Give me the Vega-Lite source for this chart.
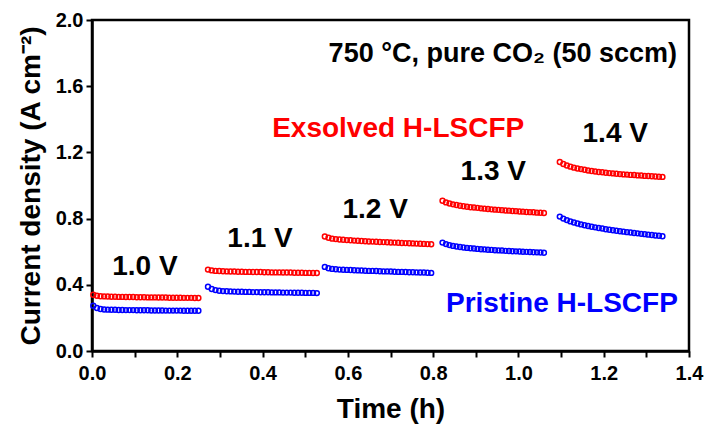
{
  "$schema": "https://vega.github.io/schema/vega-lite/v6.json",
  "width": 597,
  "height": 331,
  "autosize": "none",
  "padding": {"left": 92, "top": 20, "right": 18, "bottom": 74},
  "background": "white",
  "config": {
    "view": {"stroke": "black", "strokeWidth": 2.5},
    "font": "Liberation Sans",
    "axis": {
      "domainColor": "black", "domainWidth": 2.5,
      "tickColor": "black", "tickWidth": 2, "tickSize": 6,
      "labelFont": "Liberation Sans", "labelFontWeight": "bold", "labelFontSize": 20, "labelColor": "black",
      "titleFont": "Liberation Sans", "titleFontWeight": "bold", "titleFontSize": 28, "titleColor": "black",
      "grid": false
    }
  },
  "datasets": {
    "pts": [
      {"t":0.003,"j":0.340,"s":"Exsolved"},{"t":0.0115,"j":0.334,"s":"Exsolved"},{"t":0.020,"j":0.331,"s":"Exsolved"},{"t":0.0285,"j":0.330,"s":"Exsolved"},{"t":0.037,"j":0.329,"s":"Exsolved"},{"t":0.0455,"j":0.328,"s":"Exsolved"},{"t":0.054,"j":0.328,"s":"Exsolved"},{"t":0.0625,"j":0.327,"s":"Exsolved"},{"t":0.071,"j":0.327,"s":"Exsolved"},{"t":0.0795,"j":0.326,"s":"Exsolved"},{"t":0.088,"j":0.326,"s":"Exsolved"},{"t":0.0965,"j":0.326,"s":"Exsolved"},{"t":0.105,"j":0.325,"s":"Exsolved"},{"t":0.1135,"j":0.325,"s":"Exsolved"},{"t":0.122,"j":0.325,"s":"Exsolved"},{"t":0.1305,"j":0.324,"s":"Exsolved"},{"t":0.139,"j":0.324,"s":"Exsolved"},{"t":0.1475,"j":0.324,"s":"Exsolved"},{"t":0.156,"j":0.323,"s":"Exsolved"},{"t":0.1645,"j":0.323,"s":"Exsolved"},{"t":0.173,"j":0.323,"s":"Exsolved"},{"t":0.1815,"j":0.322,"s":"Exsolved"},{"t":0.190,"j":0.322,"s":"Exsolved"},{"t":0.1985,"j":0.322,"s":"Exsolved"},{"t":0.207,"j":0.322,"s":"Exsolved"},{"t":0.2155,"j":0.321,"s":"Exsolved"},{"t":0.224,"j":0.321,"s":"Exsolved"},{"t":0.2325,"j":0.321,"s":"Exsolved"},{"t":0.241,"j":0.320,"s":"Exsolved"},{"t":0.2495,"j":0.320,"s":"Exsolved"},
      {"t":0.003,"j":0.274,"s":"Pristine"},{"t":0.0115,"j":0.260,"s":"Pristine"},{"t":0.020,"j":0.254,"s":"Pristine"},{"t":0.0285,"j":0.251,"s":"Pristine"},{"t":0.037,"j":0.250,"s":"Pristine"},{"t":0.0455,"j":0.249,"s":"Pristine"},{"t":0.054,"j":0.249,"s":"Pristine"},{"t":0.0625,"j":0.248,"s":"Pristine"},{"t":0.071,"j":0.248,"s":"Pristine"},{"t":0.0795,"j":0.247,"s":"Pristine"},{"t":0.088,"j":0.247,"s":"Pristine"},{"t":0.0965,"j":0.247,"s":"Pristine"},{"t":0.105,"j":0.246,"s":"Pristine"},{"t":0.1135,"j":0.246,"s":"Pristine"},{"t":0.122,"j":0.246,"s":"Pristine"},{"t":0.1305,"j":0.246,"s":"Pristine"},{"t":0.139,"j":0.245,"s":"Pristine"},{"t":0.1475,"j":0.245,"s":"Pristine"},{"t":0.156,"j":0.245,"s":"Pristine"},{"t":0.1645,"j":0.245,"s":"Pristine"},{"t":0.173,"j":0.244,"s":"Pristine"},{"t":0.1815,"j":0.244,"s":"Pristine"},{"t":0.190,"j":0.244,"s":"Pristine"},{"t":0.1985,"j":0.244,"s":"Pristine"},{"t":0.207,"j":0.244,"s":"Pristine"},{"t":0.2155,"j":0.243,"s":"Pristine"},{"t":0.224,"j":0.243,"s":"Pristine"},{"t":0.2325,"j":0.243,"s":"Pristine"},{"t":0.241,"j":0.243,"s":"Pristine"},{"t":0.2495,"j":0.243,"s":"Pristine"},
      {"t":0.272,"j":0.492,"s":"Exsolved"},{"t":0.2808,"j":0.487,"s":"Exsolved"},{"t":0.2896,"j":0.484,"s":"Exsolved"},{"t":0.2984,"j":0.483,"s":"Exsolved"},{"t":0.3072,"j":0.482,"s":"Exsolved"},{"t":0.316,"j":0.481,"s":"Exsolved"},{"t":0.3248,"j":0.480,"s":"Exsolved"},{"t":0.3336,"j":0.480,"s":"Exsolved"},{"t":0.3424,"j":0.479,"s":"Exsolved"},{"t":0.3512,"j":0.479,"s":"Exsolved"},{"t":0.360,"j":0.478,"s":"Exsolved"},{"t":0.3688,"j":0.478,"s":"Exsolved"},{"t":0.3776,"j":0.477,"s":"Exsolved"},{"t":0.3864,"j":0.477,"s":"Exsolved"},{"t":0.3952,"j":0.477,"s":"Exsolved"},{"t":0.404,"j":0.476,"s":"Exsolved"},{"t":0.4128,"j":0.476,"s":"Exsolved"},{"t":0.4216,"j":0.475,"s":"Exsolved"},{"t":0.4304,"j":0.475,"s":"Exsolved"},{"t":0.4392,"j":0.475,"s":"Exsolved"},{"t":0.448,"j":0.474,"s":"Exsolved"},{"t":0.4568,"j":0.474,"s":"Exsolved"},{"t":0.4656,"j":0.474,"s":"Exsolved"},{"t":0.4744,"j":0.473,"s":"Exsolved"},{"t":0.4832,"j":0.473,"s":"Exsolved"},{"t":0.492,"j":0.473,"s":"Exsolved"},{"t":0.5008,"j":0.472,"s":"Exsolved"},{"t":0.5096,"j":0.472,"s":"Exsolved"},{"t":0.5184,"j":0.471,"s":"Exsolved"},{"t":0.5272,"j":0.471,"s":"Exsolved"},
      {"t":0.272,"j":0.388,"s":"Pristine"},{"t":0.2808,"j":0.375,"s":"Pristine"},{"t":0.2896,"j":0.368,"s":"Pristine"},{"t":0.2984,"j":0.364,"s":"Pristine"},{"t":0.3072,"j":0.362,"s":"Pristine"},{"t":0.316,"j":0.361,"s":"Pristine"},{"t":0.3248,"j":0.360,"s":"Pristine"},{"t":0.3336,"j":0.359,"s":"Pristine"},{"t":0.3424,"j":0.358,"s":"Pristine"},{"t":0.3512,"j":0.358,"s":"Pristine"},{"t":0.360,"j":0.357,"s":"Pristine"},{"t":0.3688,"j":0.357,"s":"Pristine"},{"t":0.3776,"j":0.356,"s":"Pristine"},{"t":0.3864,"j":0.356,"s":"Pristine"},{"t":0.3952,"j":0.355,"s":"Pristine"},{"t":0.404,"j":0.355,"s":"Pristine"},{"t":0.4128,"j":0.355,"s":"Pristine"},{"t":0.4216,"j":0.354,"s":"Pristine"},{"t":0.4304,"j":0.354,"s":"Pristine"},{"t":0.4392,"j":0.354,"s":"Pristine"},{"t":0.448,"j":0.353,"s":"Pristine"},{"t":0.4568,"j":0.353,"s":"Pristine"},{"t":0.4656,"j":0.353,"s":"Pristine"},{"t":0.4744,"j":0.352,"s":"Pristine"},{"t":0.4832,"j":0.352,"s":"Pristine"},{"t":0.492,"j":0.352,"s":"Pristine"},{"t":0.5008,"j":0.351,"s":"Pristine"},{"t":0.5096,"j":0.351,"s":"Pristine"},{"t":0.5184,"j":0.351,"s":"Pristine"},{"t":0.5272,"j":0.350,"s":"Pristine"},
      {"t":0.546,"j":0.692,"s":"Exsolved"},{"t":0.5546,"j":0.684,"s":"Exsolved"},{"t":0.5632,"j":0.679,"s":"Exsolved"},{"t":0.5718,"j":0.676,"s":"Exsolved"},{"t":0.5804,"j":0.674,"s":"Exsolved"},{"t":0.589,"j":0.672,"s":"Exsolved"},{"t":0.5976,"j":0.670,"s":"Exsolved"},{"t":0.6062,"j":0.669,"s":"Exsolved"},{"t":0.6148,"j":0.667,"s":"Exsolved"},{"t":0.6234,"j":0.666,"s":"Exsolved"},{"t":0.632,"j":0.665,"s":"Exsolved"},{"t":0.6406,"j":0.663,"s":"Exsolved"},{"t":0.6492,"j":0.662,"s":"Exsolved"},{"t":0.6578,"j":0.661,"s":"Exsolved"},{"t":0.6664,"j":0.660,"s":"Exsolved"},{"t":0.675,"j":0.659,"s":"Exsolved"},{"t":0.6836,"j":0.658,"s":"Exsolved"},{"t":0.6922,"j":0.657,"s":"Exsolved"},{"t":0.7008,"j":0.656,"s":"Exsolved"},{"t":0.7094,"j":0.655,"s":"Exsolved"},{"t":0.718,"j":0.654,"s":"Exsolved"},{"t":0.7266,"j":0.653,"s":"Exsolved"},{"t":0.7352,"j":0.652,"s":"Exsolved"},{"t":0.7438,"j":0.651,"s":"Exsolved"},{"t":0.7524,"j":0.650,"s":"Exsolved"},{"t":0.761,"j":0.649,"s":"Exsolved"},{"t":0.7696,"j":0.648,"s":"Exsolved"},{"t":0.7782,"j":0.647,"s":"Exsolved"},{"t":0.7868,"j":0.646,"s":"Exsolved"},{"t":0.7954,"j":0.645,"s":"Exsolved"},
      {"t":0.546,"j":0.508,"s":"Pristine"},{"t":0.5546,"j":0.500,"s":"Pristine"},{"t":0.5632,"j":0.496,"s":"Pristine"},{"t":0.5718,"j":0.494,"s":"Pristine"},{"t":0.5804,"j":0.492,"s":"Pristine"},{"t":0.589,"j":0.491,"s":"Pristine"},{"t":0.5976,"j":0.490,"s":"Pristine"},{"t":0.6062,"j":0.489,"s":"Pristine"},{"t":0.6148,"j":0.488,"s":"Pristine"},{"t":0.6234,"j":0.487,"s":"Pristine"},{"t":0.632,"j":0.486,"s":"Pristine"},{"t":0.6406,"j":0.485,"s":"Pristine"},{"t":0.6492,"j":0.484,"s":"Pristine"},{"t":0.6578,"j":0.484,"s":"Pristine"},{"t":0.6664,"j":0.483,"s":"Pristine"},{"t":0.675,"j":0.482,"s":"Pristine"},{"t":0.6836,"j":0.481,"s":"Pristine"},{"t":0.6922,"j":0.481,"s":"Pristine"},{"t":0.7008,"j":0.480,"s":"Pristine"},{"t":0.7094,"j":0.479,"s":"Pristine"},{"t":0.718,"j":0.478,"s":"Pristine"},{"t":0.7266,"j":0.478,"s":"Pristine"},{"t":0.7352,"j":0.477,"s":"Pristine"},{"t":0.7438,"j":0.476,"s":"Pristine"},{"t":0.7524,"j":0.476,"s":"Pristine"},{"t":0.761,"j":0.475,"s":"Pristine"},{"t":0.7696,"j":0.474,"s":"Pristine"},{"t":0.7782,"j":0.474,"s":"Pristine"},{"t":0.7868,"j":0.473,"s":"Pristine"},{"t":0.7954,"j":0.472,"s":"Pristine"},
      {"t":0.822,"j":0.908,"s":"Exsolved"},{"t":0.8302,"j":0.898,"s":"Exsolved"},{"t":0.8384,"j":0.891,"s":"Exsolved"},{"t":0.8466,"j":0.886,"s":"Exsolved"},{"t":0.8548,"j":0.882,"s":"Exsolved"},{"t":0.863,"j":0.878,"s":"Exsolved"},{"t":0.8712,"j":0.875,"s":"Exsolved"},{"t":0.8794,"j":0.872,"s":"Exsolved"},{"t":0.8876,"j":0.869,"s":"Exsolved"},{"t":0.8958,"j":0.867,"s":"Exsolved"},{"t":0.904,"j":0.865,"s":"Exsolved"},{"t":0.9122,"j":0.862,"s":"Exsolved"},{"t":0.9204,"j":0.860,"s":"Exsolved"},{"t":0.9286,"j":0.858,"s":"Exsolved"},{"t":0.9368,"j":0.856,"s":"Exsolved"},{"t":0.945,"j":0.854,"s":"Exsolved"},{"t":0.9532,"j":0.853,"s":"Exsolved"},{"t":0.9614,"j":0.851,"s":"Exsolved"},{"t":0.9696,"j":0.849,"s":"Exsolved"},{"t":0.9778,"j":0.848,"s":"Exsolved"},{"t":0.986,"j":0.846,"s":"Exsolved"},{"t":0.9942,"j":0.845,"s":"Exsolved"},{"t":1.0024,"j":0.843,"s":"Exsolved"},{"t":1.0106,"j":0.842,"s":"Exsolved"},{"t":1.0188,"j":0.840,"s":"Exsolved"},{"t":1.027,"j":0.839,"s":"Exsolved"},{"t":1.0352,"j":0.838,"s":"Exsolved"},{"t":1.0434,"j":0.836,"s":"Exsolved"},{"t":1.0516,"j":0.835,"s":"Exsolved"},{"t":1.0598,"j":0.834,"s":"Exsolved"},
      {"t":0.822,"j":0.655,"s":"Pristine"},{"t":0.8302,"j":0.646,"s":"Pristine"},{"t":0.8384,"j":0.640,"s":"Pristine"},{"t":0.8466,"j":0.635,"s":"Pristine"},{"t":0.8548,"j":0.631,"s":"Pristine"},{"t":0.863,"j":0.628,"s":"Pristine"},{"t":0.8712,"j":0.625,"s":"Pristine"},{"t":0.8794,"j":0.623,"s":"Pristine"},{"t":0.8876,"j":0.621,"s":"Pristine"},{"t":0.8958,"j":0.619,"s":"Pristine"},{"t":0.904,"j":0.617,"s":"Pristine"},{"t":0.9122,"j":0.615,"s":"Pristine"},{"t":0.9204,"j":0.614,"s":"Pristine"},{"t":0.9286,"j":0.612,"s":"Pristine"},{"t":0.9368,"j":0.611,"s":"Pristine"},{"t":0.945,"j":0.609,"s":"Pristine"},{"t":0.9532,"j":0.608,"s":"Pristine"},{"t":0.9614,"j":0.607,"s":"Pristine"},{"t":0.9696,"j":0.605,"s":"Pristine"},{"t":0.9778,"j":0.604,"s":"Pristine"},{"t":0.986,"j":0.603,"s":"Pristine"},{"t":0.9942,"j":0.602,"s":"Pristine"},{"t":1.0024,"j":0.601,"s":"Pristine"},{"t":1.0106,"j":0.600,"s":"Pristine"},{"t":1.0188,"j":0.599,"s":"Pristine"},{"t":1.027,"j":0.598,"s":"Pristine"},{"t":1.0352,"j":0.597,"s":"Pristine"},{"t":1.0434,"j":0.596,"s":"Pristine"},{"t":1.0516,"j":0.595,"s":"Pristine"},{"t":1.0598,"j":0.594,"s":"Pristine"},
      {"t":1.097,"j":1.142,"s":"Exsolved"},{"t":1.1053,"j":1.130,"s":"Exsolved"},{"t":1.1136,"j":1.121,"s":"Exsolved"},{"t":1.1219,"j":1.114,"s":"Exsolved"},{"t":1.1302,"j":1.108,"s":"Exsolved"},{"t":1.1385,"j":1.103,"s":"Exsolved"},{"t":1.1468,"j":1.099,"s":"Exsolved"},{"t":1.1551,"j":1.095,"s":"Exsolved"},{"t":1.1634,"j":1.091,"s":"Exsolved"},{"t":1.1717,"j":1.088,"s":"Exsolved"},{"t":1.180,"j":1.085,"s":"Exsolved"},{"t":1.1883,"j":1.082,"s":"Exsolved"},{"t":1.1966,"j":1.080,"s":"Exsolved"},{"t":1.2049,"j":1.077,"s":"Exsolved"},{"t":1.2132,"j":1.075,"s":"Exsolved"},{"t":1.2215,"j":1.073,"s":"Exsolved"},{"t":1.2298,"j":1.071,"s":"Exsolved"},{"t":1.2381,"j":1.069,"s":"Exsolved"},{"t":1.2464,"j":1.067,"s":"Exsolved"},{"t":1.2547,"j":1.066,"s":"Exsolved"},{"t":1.263,"j":1.064,"s":"Exsolved"},{"t":1.2713,"j":1.063,"s":"Exsolved"},{"t":1.2796,"j":1.061,"s":"Exsolved"},{"t":1.2879,"j":1.060,"s":"Exsolved"},{"t":1.2962,"j":1.058,"s":"Exsolved"},{"t":1.3045,"j":1.057,"s":"Exsolved"},{"t":1.3128,"j":1.056,"s":"Exsolved"},{"t":1.3211,"j":1.054,"s":"Exsolved"},{"t":1.3294,"j":1.053,"s":"Exsolved"},{"t":1.3377,"j":1.052,"s":"Exsolved"},
      {"t":1.097,"j":0.812,"s":"Pristine"},{"t":1.1053,"j":0.800,"s":"Pristine"},{"t":1.1136,"j":0.791,"s":"Pristine"},{"t":1.1219,"j":0.783,"s":"Pristine"},{"t":1.1302,"j":0.776,"s":"Pristine"},{"t":1.1385,"j":0.770,"s":"Pristine"},{"t":1.1468,"j":0.765,"s":"Pristine"},{"t":1.1551,"j":0.760,"s":"Pristine"},{"t":1.1634,"j":0.755,"s":"Pristine"},{"t":1.1717,"j":0.751,"s":"Pristine"},{"t":1.180,"j":0.747,"s":"Pristine"},{"t":1.1883,"j":0.743,"s":"Pristine"},{"t":1.1966,"j":0.740,"s":"Pristine"},{"t":1.2049,"j":0.736,"s":"Pristine"},{"t":1.2132,"j":0.733,"s":"Pristine"},{"t":1.2215,"j":0.730,"s":"Pristine"},{"t":1.2298,"j":0.727,"s":"Pristine"},{"t":1.2381,"j":0.724,"s":"Pristine"},{"t":1.2464,"j":0.721,"s":"Pristine"},{"t":1.2547,"j":0.718,"s":"Pristine"},{"t":1.263,"j":0.716,"s":"Pristine"},{"t":1.2713,"j":0.713,"s":"Pristine"},{"t":1.2796,"j":0.711,"s":"Pristine"},{"t":1.2879,"j":0.708,"s":"Pristine"},{"t":1.2962,"j":0.706,"s":"Pristine"},{"t":1.3045,"j":0.703,"s":"Pristine"},{"t":1.3128,"j":0.701,"s":"Pristine"},{"t":1.3211,"j":0.698,"s":"Pristine"},{"t":1.3294,"j":0.696,"s":"Pristine"},{"t":1.3377,"j":0.693,"s":"Pristine"}
    ],
    "vlabels": [
      {"t":0.124,"j":0.459,"label":"1.0 V"},
      {"t":0.394,"j":0.628,"label":"1.1 V"},
      {"t":0.664,"j":0.804,"label":"1.2 V"},
      {"t":0.941,"j":1.033,"label":"1.3 V"},
      {"t":1.227,"j":1.263,"label":"1.4 V"}
    ],
    "slabels": [
      {"t":0.718,"j":1.293,"label":"Exsolved H-LSCFP","s":"Exsolved"},
      {"t":1.102,"j":0.236,"label":"Pristine H-LSCFP","s":"Pristine"}
    ],
    "cond": [
      {"t":1.372,"j":1.746,"label":"750 °C, pure CO₂ (50 sccm)"}
    ]
  },
  "layer": [
    {
      "data": {"name": "pts"},
      "mark": {"type": "point", "shape": "circle", "filled": false, "size": 24, "strokeWidth": 1.5, "opacity": 1},
      "encoding": {
        "x": {"field": "t", "type": "quantitative",
              "scale": {"domain": [0, 1.4], "nice": false, "zero": false},
              "axis": {"title": "Time (h)", "values": [0,0.1,0.2,0.3,0.4,0.5,0.6,0.7,0.8,0.9,1.0,1.1,1.2,1.3,1.4],
                       "labelExpr": "round(datum.value*10) % 2 == 0 ? format(datum.value, '.1f') : ''",
                       "labelPadding": 6, "titlePadding": 12, "labelFlush": false, "labelOverlap": false}},
        "y": {"field": "j", "type": "quantitative",
              "scale": {"domain": [0, 2.0], "nice": false},
              "axis": {"title": "Current density (A cm⁻²)", "values": [0,0.2,0.4,0.6,0.8,1.0,1.2,1.4,1.6,1.8,2.0],
                       "labelExpr": "round(datum.value*10) % 4 == 0 ? format(datum.value, '.1f') : ''",
                       "labelPadding": 3, "titlePadding": 10, "labelFlush": false, "labelOverlap": false}},
        "color": {"field": "s", "type": "nominal",
                  "scale": {"domain": ["Exsolved", "Pristine"], "range": ["#ff0000", "#0000ff"]},
                  "legend": null}
      }
    },
    {
      "data": {"name": "vlabels"},
      "mark": {"type": "text", "font": "Liberation Sans", "fontWeight": "bold", "fontSize": 28, "align": "center", "baseline": "alphabetic", "color": "black"},
      "encoding": {
        "x": {"field": "t", "type": "quantitative"},
        "y": {"field": "j", "type": "quantitative"},
        "text": {"field": "label"}
      }
    },
    {
      "data": {"name": "slabels"},
      "mark": {"type": "text", "font": "Liberation Sans", "fontWeight": "bold", "fontSize": 28, "align": "center", "baseline": "alphabetic"},
      "encoding": {
        "x": {"field": "t", "type": "quantitative"},
        "y": {"field": "j", "type": "quantitative"},
        "text": {"field": "label"},
        "color": {"field": "s", "type": "nominal", "legend": null}
      }
    },
    {
      "data": {"name": "cond"},
      "mark": {"type": "text", "font": "Liberation Sans", "fontWeight": "bold", "fontSize": 27, "align": "right", "baseline": "alphabetic", "color": "black"},
      "encoding": {
        "x": {"field": "t", "type": "quantitative"},
        "y": {"field": "j", "type": "quantitative"},
        "text": {"field": "label"}
      }
    }
  ]
}
